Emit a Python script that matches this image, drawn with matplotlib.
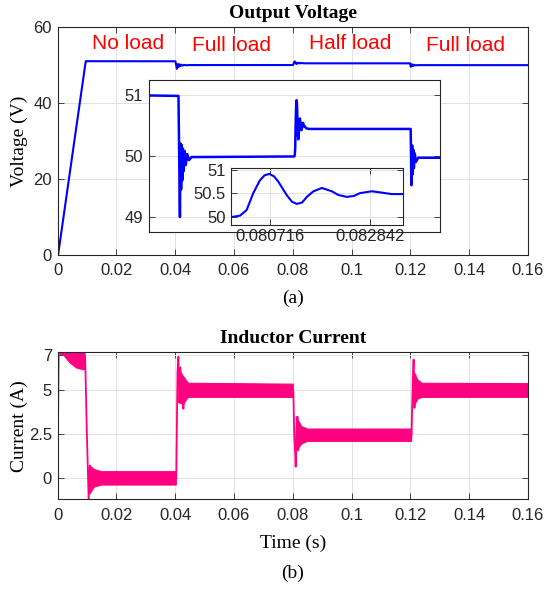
import numpy as np
import matplotlib.pyplot as plt

plt.rcParams['font.family'] = 'Liberation Sans'
plt.rcParams['font.size'] = 12

# output voltage (s, V)
volt_t = [0.0000, 0.0002, 0.0096, 0.0100, 0.0401, 0.0406, 0.0408, 0.0410, 0.0412,
          0.0414, 0.0416, 0.0419, 0.0422, 0.0426, 0.0431, 0.0437, 0.0446, 0.0799,
          0.08008, 0.08015, 0.08022, 0.08036, 0.08050, 0.08060, 0.08070, 0.08080,
          0.08089, 0.08107, 0.08118, 0.08128, 0.08140, 0.08150, 0.08164, 0.08182,
          0.08203, 0.08217, 0.08235, 0.08250, 0.08263, 0.08288, 0.08310, 0.08330,
          0.08354, 0.0840, 0.0850, 0.1199, 0.12014, 0.1204, 0.1206, 0.1208, 0.1210,
          0.1213, 0.1217, 0.1225, 0.1600]
volt_v = [0.0, 0.0, 51.0, 51.0, 50.98, 49.0, 50.2, 49.45, 50.18,
          49.6, 50.12, 49.75, 50.08, 49.85, 50.03, 49.93, 49.98, 49.99,
          50.02, 50.08, 50.14, 50.50, 50.77, 50.88, 50.91, 50.86,
          50.75, 50.46, 50.32, 50.27, 50.30, 50.42, 50.54, 50.61,
          50.54, 50.46, 50.42, 50.44, 50.50, 50.54, 50.51, 50.48,
          50.48, 50.45, 50.44, 50.44, 49.52, 50.17, 49.7, 50.1, 49.8,
          50.04, 49.9, 49.97, 49.96]

# inductor current transients (s, A)
cur_t = [0.0000, 0.0004, 0.0009, 0.0094, 0.0100, 0.0106, 0.0110, 0.0113, 0.0117,
         0.0122, 0.0404, 0.0408, 0.0411, 0.0414, 0.0418, 0.0422, 0.0426, 0.0428,
         0.0432, 0.0438, 0.0445, 0.0802, 0.0805, 0.0808, 0.0810, 0.0813, 0.0816,
         0.0819, 0.0823, 0.0827, 0.0833, 0.1204, 0.1208, 0.1211, 0.1214, 0.1217,
         0.1221, 0.1226, 0.1232, 0.1240, 0.1600]
cur_i = [0.0, 7.1, 7.15, 6.9, 2.5, -1.25, 0.72, -0.55, 0.45,
         -0.2, 0.0, 6.0, 6.9, 5.0, 6.3, 4.5, 5.7, 3.95,
         5.5, 4.6, 5.0, 5.0, 2.5, 1.5, 0.66, 2.8, 3.5,
         1.6, 3.1, 1.9, 2.5, 2.4, 5.5, 6.75, 4.0, 5.9,
         4.4, 5.5, 4.8, 5.0, 5.0]

# switching ripple envelope of the current, one block per load step
nan = np.nan
ripple_t = [0.0009, 0.0021, 0.0043, 0.0065, 0.0088, 0.0094, nan,
            0.0110, 0.0125, 0.0150, 0.0404, nan,
            0.0412, 0.0428, 0.0445, 0.0802, nan,
            0.0812, 0.0830, 0.0850, 0.1204, nan,
            0.1213, 0.1225, 0.1240, 0.1600]
ripple_hi = [7.15, 7.15, 7.15, 7.15, 7.15, 7.1, nan,
             0.72, 0.5, 0.38, 0.38, nan,
             6.2, 5.8, 5.4, 5.35, nan,
             3.5, 2.95, 2.8, 2.8, nan,
             6.0, 5.6, 5.4, 5.38]
ripple_lo = [7.05, 7.0, 6.55, 6.27, 6.17, 6.2, nan,
             -0.9, -0.5, -0.38, -0.38, nan,
             4.3, 4.2, 4.6, 4.6, nan,
             1.5, 1.95, 2.1, 2.1, nan,
             4.1, 4.5, 4.6, 4.6]

load_labels = ['No load', 'Full load', 'Half load', 'Full load']
load_x = [0.0241, 0.0593, 0.0997, 0.1387]
load_y = [55.7, 55.2, 55.6, 55.2]

time_ticks = [0, 0.02, 0.04, 0.06, 0.08, 0.1, 0.12, 0.14, 0.16]
time_labels = ['0', '0.02', '0.04', '0.06', '0.08', '0.1', '0.12', '0.14', '0.16']
zoom_ticks = [0.080716, 0.082842]

W, H = 544, 589
blue = '#0000ff'
pink = '#ff0080'
serif = 'Liberation Serif'


def box(l, t, r, b):
    return [l / W, 1 - b / H, (r - l) / W, (b - t) / H]


def style(ax, grid='both'):
    for s in ax.spines.values():
        s.set_color('#262626')
        s.set_linewidth(0.8)
    ax.tick_params(direction='in', top=True, right=True, length=4, width=0.6,
                   colors='#262626', labelsize=12)
    ax.tick_params(axis='x', pad=6)
    ax.tick_params(axis='y', pad=4)
    ax.grid(True, axis=grid, color='#e2e2e2', lw=0.7)
    ax.set_axisbelow(True)


fig = plt.figure(figsize=(W / 100, H / 100), dpi=100)

# Output voltage
ax1 = fig.add_axes(box(57.5, 27, 528, 255))
ax1.plot(volt_t, volt_v, color=blue, lw=1.5)
ax1.set_xlim(0, 0.16)
ax1.set_ylim(0, 60)
ax1.set_yticks([0, 20, 40, 60])
ax1.set_xticks(time_ticks)
ax1.set_xticklabels(time_labels)
style(ax1)
ax1.set_ylabel('Voltage (V)', family=serif, fontsize=14)
ax1.yaxis.set_label_coords(-0.063, 0.5)
for lbl, x, y in zip(load_labels, load_x, load_y):
    ax1.text(x, y, lbl, color='red', fontsize=15, ha='center', va='center')

# zoom on the load steps
ins1 = fig.add_axes(box(148.5, 80, 439.5, 231.7))
ins1.plot(volt_t, volt_v, color=blue, lw=1.8)
ins1.set_xlim(0.0298, 0.1298)
ins1.set_ylim(48.76, 51.24)
ins1.set_xticks([])
ins1.set_yticks([49, 50, 51])
ins1.set_yticklabels(['49', '50', '51'])
style(ins1, grid='y')

# zoom on the half-load step
ins2 = fig.add_axes(box(231, 168.3, 403.3, 225))
ins2.plot(volt_t, volt_v, color=blue, lw=1.5)
ins2.set_xlim(0.079887, 0.08355)
ins2.set_ylim(49.82, 51.03)
ins2.set_xticks(zoom_ticks)
ins2.set_xticklabels(['0.080716', '0.082842'])
ins2.set_yticks([50, 50.5, 51])
ins2.set_yticklabels(['50', '50.5', '51'])
style(ins2)
ins2.tick_params(axis='x', pad=3)

# Inductor current
ax2 = fig.add_axes(box(57.5, 352.3, 528, 499.3))
ax2.fill_between(ripple_t, ripple_lo, ripple_hi, color=pink, lw=0.8)
ax2.plot(cur_t, cur_i, color=pink, lw=1.3)
ax2.set_xlim(0, 0.16)
ax2.set_ylim(-1.19, 7.16)
ax2.set_yticks([0, 2.5, 5, 7])
ax2.set_yticklabels(['0', '2.5', '5', '7'])
ax2.set_xticks(time_ticks)
ax2.set_xticklabels(time_labels)
style(ax2)
ax2.set_ylabel('Current (A)', family=serif, fontsize=14)
ax2.yaxis.set_label_coords(-0.063, 0.5)

fig.text(292.8 / W, 1 - 14 / H, 'Output Voltage', family=serif, fontsize=14,
         fontweight='bold', ha='center', va='center')
fig.text(292.8 / W, 1 - 338.5 / H, 'Inductor Current', family=serif, fontsize=14,
         fontweight='bold', ha='center', va='center')
fig.text(292.8 / W, 1 - 298 / H, '(a)', family=serif, fontsize=14, ha='center', va='center')
fig.text(292.8 / W, 1 - 543 / H, 'Time (s)', family=serif, fontsize=14, ha='center', va='center')
fig.text(292.8 / W, 1 - 573 / H, '(b)', family=serif, fontsize=14, ha='center', va='center')

fig.savefig('out.png', dpi=100)
